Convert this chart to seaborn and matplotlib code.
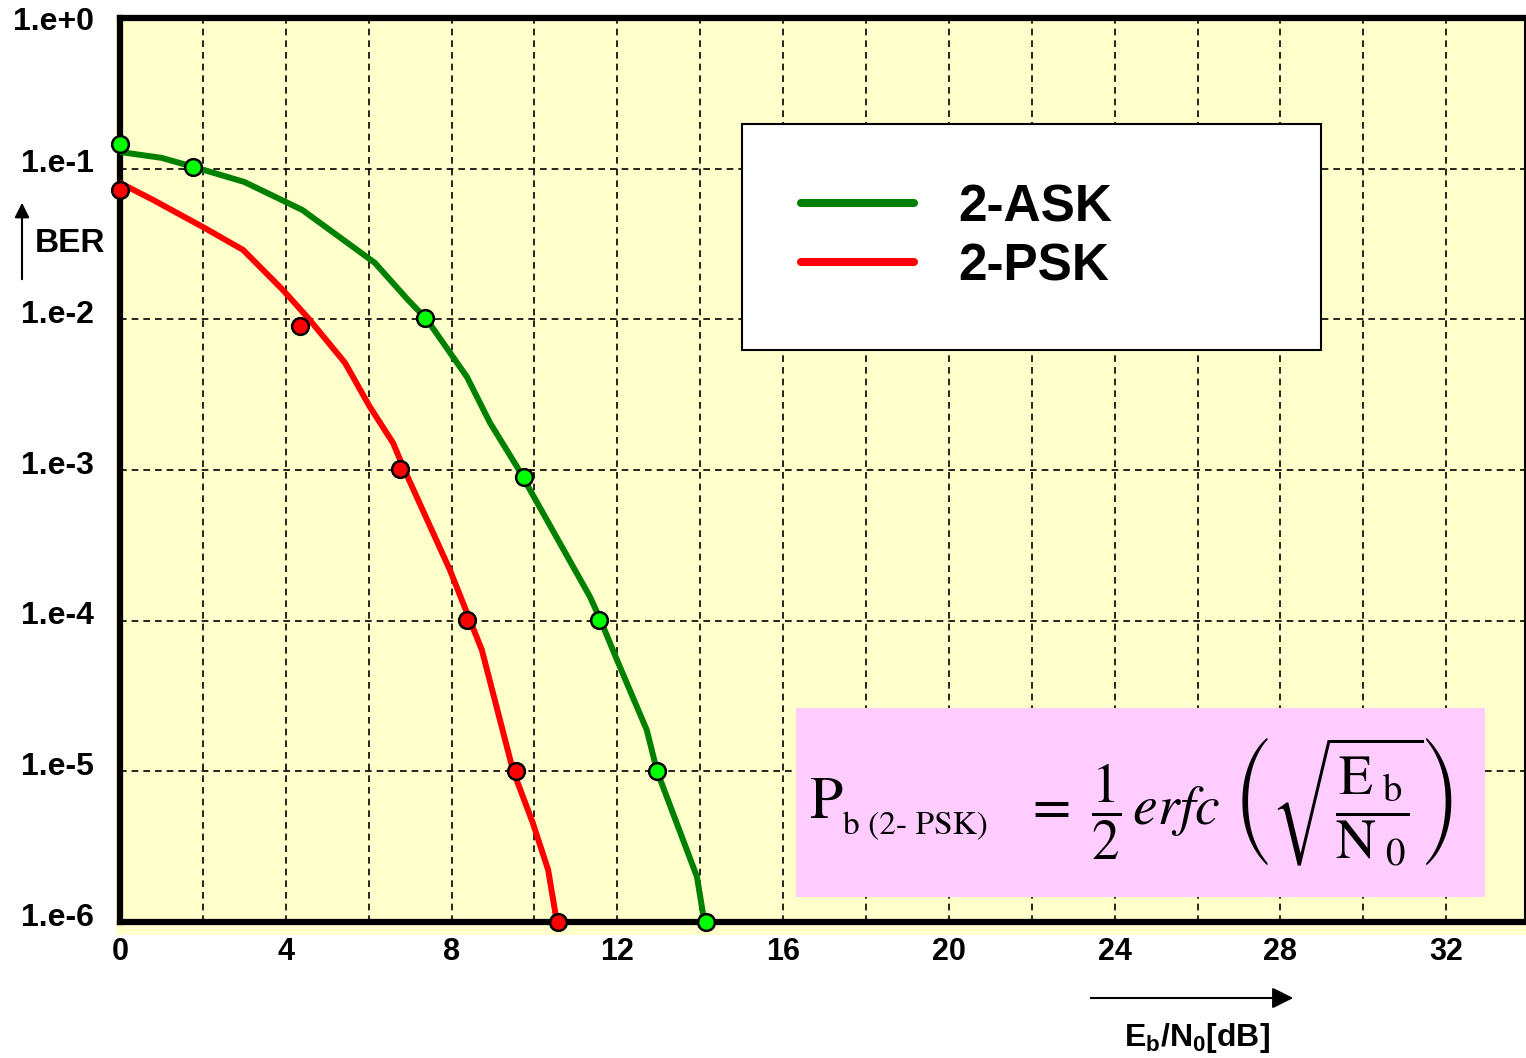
import numpy as np
import matplotlib
matplotlib.use("Agg")
import matplotlib.pyplot as plt
import matplotlib.transforms as mtransforms
from matplotlib.patches import Rectangle
from matplotlib.lines import Line2D
import seaborn as sns

# BER curves (line vertices) and the marked points
ask_line_x = [0, 1.0, 1.76, 3.0, 4.4, 6.15, 6.95, 7.4, 8.37, 8.93, 9.58, 11.34, 11.6, 11.99, 12.71, 12.96, 13.92, 14.1]
ask_line_ber = [0.129, 0.118, 0.103, 0.0816, 0.0532, 0.0237, 0.01345, 0.0100, 4.15e-3, 2.05e-3, 1.05e-3,
                1.44e-4, 1.0e-4, 5.5e-5, 1.88e-5, 1.0e-5, 2.0e-6, 1.0e-6]
ask_pts_x = [0, 1.76, 7.36, 9.75, 11.56, 12.96, 14.14]
ask_pts_ber = [0.146, 0.1026, 0.0102, 9.0e-4, 1.01e-4, 1.0e-5, 1.0e-6]

psk_line_x = [0, 0.8, 2.0, 2.97, 3.93, 4.54, 5.43, 6.03, 6.59, 6.83, 7.96, 8.37, 8.73, 9.48, 9.96, 10.33, 10.54]
psk_line_ber = [0.0804, 0.062, 0.041, 0.0289, 0.01567, 0.0102, 5.14e-3, 2.62e-3, 1.51e-3, 1.05e-3,
                2.17e-4, 1.13e-4, 6.4e-5, 1.02e-5, 4.55e-6, 2.22e-6, 1.0e-6]
psk_pts_x = [0, 4.34, 6.75, 8.37, 9.55, 10.57]
psk_pts_ber = [0.0722, 9.04e-3, 1.02e-3, 1.01e-4, 1.0e-5, 1.0e-6]

y_ticks = [1, 1e-1, 1e-2, 1e-3, 1e-4, 1e-5, 1e-6]
y_tick_labels = ["1.e+0", "1.e-1", "1.e-2", "1.e-3", "1.e-4", "1.e-5", "1.e-6"]
x_grid = list(range(0, 34, 2))
x_tick_labels = ["0", "4", "8", "12", "16", "20", "24", "28", "32"]
series_names = ["2-ASK", "2-PSK"]

sns.set_style("white")
plt.rcParams["font.family"] = ["Liberation Sans", "DejaVu Sans"]
plt.rcParams["text.color"] = "black"
plt.rcParams["xtick.color"] = "black"
plt.rcParams["ytick.color"] = "black"
plt.rcParams["mathtext.fontset"] = "custom"
plt.rcParams["mathtext.rm"] = "Liberation Sans:bold"
plt.rcParams["mathtext.bf"] = "Liberation Sans:bold"
plt.rcParams["mathtext.it"] = "Liberation Sans:bold"

W, H = 1526, 1058
fig = plt.figure(figsize=(W / 100, H / 100), dpi=100)


def fx(px):
    return px / W


def fy(py):
    return 1 - py / H


ax = fig.add_axes([fx(120), fy(922), (1525 - 120) / W, (922 - 18) / H])
ax.set_facecolor("#FFFFCC")
fig.patches.append(Rectangle((fx(116), fy(935)), (W - 116) / W, (935 - 18) / H,
                             transform=fig.transFigure, facecolor="#FFFFCC",
                             edgecolor="none", zorder=-1))

ax.set_yscale("log")
ax.set_xlim(0, 33.9)
ax.set_ylim(1e-6, 1)

# lines
sns.lineplot(x=ask_line_x, y=ask_line_ber, sort=False, color="#008000", lw=4.3, ax=ax, zorder=3)
sns.lineplot(x=psk_line_x, y=psk_line_ber, sort=False, color="#FF0000", lw=4.3, ax=ax, zorder=3)
# markers
sns.scatterplot(x=ask_pts_x, y=ask_pts_ber, color="#00FF00", edgecolor="black", linewidth=1.8,
                s=145, ax=ax, zorder=4, clip_on=False)
sns.scatterplot(x=psk_pts_x, y=psk_pts_ber, color="#FF0000", edgecolor="black", linewidth=1.8,
                s=145, ax=ax, zorder=4, clip_on=False)

# grid
ax.set_xticks(x_grid)
ax.set_xticklabels([lab if lab in x_tick_labels else "" for lab in map(str, x_grid)])
ax.set_yticks(y_ticks)
ax.set_yticklabels(y_tick_labels)
ax.yaxis.set_minor_locator(matplotlib.ticker.NullLocator())
ax.grid(True, which="major", color="black", lw=1.2, ls=(0, (4, 3)))
ax.tick_params(axis="both", length=0)
ax.tick_params(axis="y", pad=19, labelsize=23)
ax.tick_params(axis="x", pad=11, labelsize=22)
for lab in ax.get_xticklabels() + ax.get_yticklabels():
    lab.set_fontweight("bold")
offset = mtransforms.ScaledTranslation(0, 8 / 100, fig.dpi_scale_trans)
for lab in ax.get_yticklabels()[1:]:
    lab.set_transform(lab.get_transform() + offset)

for side in ["left", "top", "bottom"]:
    ax.spines[side].set_linewidth(4.5)
    ax.spines[side].set_color("black")
ax.spines["right"].set_linewidth(1.5)
ax.spines["right"].set_color("black")

# legend
handles = [Line2D([], [], color="#008000", lw=5.8, solid_capstyle="round"),
           Line2D([], [], color="#FF0000", lw=5.8, solid_capstyle="round")]
leg = ax.legend(handles, series_names, loc="upper left", mode="expand",
                bbox_to_anchor=(fx(742), fy(350), (1321 - 742) / W, (350 - 124) / H),
                bbox_transform=fig.transFigure, prop={"weight": "bold", "size": 37},
                frameon=True, fancybox=False, framealpha=1, facecolor="white",
                edgecolor="black", borderpad=1.15, handlelength=2.2, handletextpad=0.86,
                labelspacing=0.2, borderaxespad=0)
leg.get_frame().set_linewidth(1.5)
leg.set_zorder(6)

# axis captions with arrows
fig.text(fx(35), fy(243), "BER", fontsize=24, fontweight="bold", va="center", ha="left")
ax.annotate("", xy=(22, H - 200), xytext=(22, H - 282), xycoords="figure pixels",
            textcoords="figure pixels",
            arrowprops=dict(arrowstyle="-|>", lw=1.5, color="black", mutation_scale=22))
ax.annotate("", xy=(1296, H - 998), xytext=(1088, H - 998), xycoords="figure pixels",
            textcoords="figure pixels",
            arrowprops=dict(arrowstyle="-|>", lw=1.5, color="black", mutation_scale=32))
fig.text(fx(1197), fy(1038), r"$\mathbf{E_b/N_0[dB]}$", fontsize=23, va="center", ha="center")

# formula box
fig.patches.append(Rectangle((fx(796), fy(897)), (1485 - 796) / W, (897 - 708) / H,
                             transform=fig.transFigure, facecolor="#FFCCFF",
                             edgecolor="none", zorder=2))
fig.text(fx(809), fy(818), r"$\mathrm{P}$", fontsize=43, math_fontfamily="stix",
         va="baseline", ha="left", zorder=3)
fig.text(fx(843), fy(834), "b (2\u2010 PSK)", fontsize=24, family="STIXGeneral",
         va="baseline", ha="left", zorder=3)
rhs = (r"$=\ \dfrac{1}{2}\,\mathit{erfc}\ "
       r"\left(\sqrt{\dfrac{\mathrm{E}_{\ \mathrm{b}}}{\mathrm{N}_{\ 0}}}\right)$")
fig.text(fx(1024), fy(802), rhs, fontsize=40, math_fontfamily="stix",
         va="center", ha="left", zorder=3)

fig.savefig("out.png", dpi=100)
